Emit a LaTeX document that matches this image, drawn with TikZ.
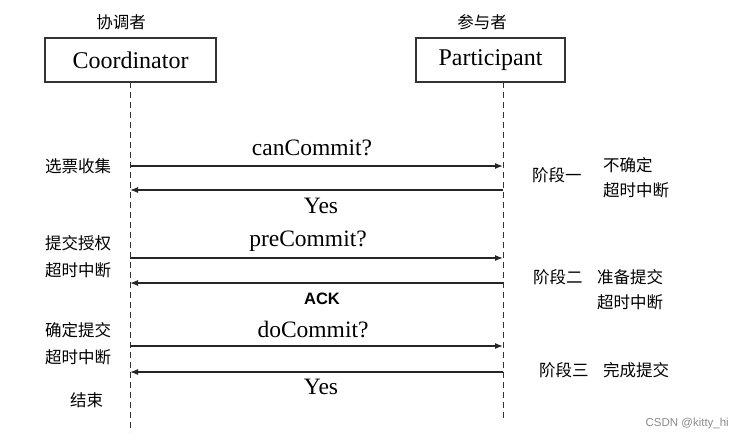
\documentclass[tikz,border=0pt]{standalone}
\usepackage{fontspec}
\setmainfont{Liberation Serif}
\setsansfont{Liberation Sans}
\newfontfamily\cjk{Noto Sans CJK SC}
\usetikzlibrary{arrows.meta}
\begin{document}
\begin{tikzpicture}[x=1pt,y=-1pt,
  actor/.style={draw=black!80,line width=1.3pt,minimum width=#1,minimum height=44pt,inner sep=0pt,font=\fontsize{24}{26}\selectfont},
  lifeline/.style={draw=black!80,line width=1pt,dash pattern=on 6pt off 4pt},
  msg/.style={draw=black!85,line width=1.2pt,-{Latex[length=8pt,width=6pt]}},
  msglabel/.style={font=\fontsize{23.5}{26}\selectfont,inner sep=0pt},
  cjklabel/.style={font=\cjk\fontsize{16.5}{18}\selectfont,inner sep=0pt,anchor=west},
  cjkc/.style={font=\cjk\fontsize{16.5}{18}\selectfont,inner sep=0pt}]
\useasboundingbox (0,0) rectangle (743,440);
\fill[white] (0,0) rectangle (743,440);
% actors
\node[actor=171pt] (coord) at (130.5,60) {Coordinator};
\node[actor=149pt] (part) at (490.5,60) {Participant};
\node[cjkc] (coordtitle) at (121,22) {协调者};
\node[cjkc] (parttitle) at (482,22) {参与者};
% lifelines
\coordinate (ctop) at (130,82);
\coordinate (cbot) at (130,432);
\coordinate (ptop) at (503,82);
\coordinate (pbot) at (503,418);
\draw[lifeline] (ctop) -- (cbot);
\draw[lifeline] (ptop) -- (pbot);
% message anchor points
\coordinate (c1) at (130,166); \coordinate (p1) at (503,166);
\coordinate (c2) at (130,190); \coordinate (p2) at (503,190);
\coordinate (c3) at (130,258); \coordinate (p3) at (503,258);
\coordinate (c4) at (130,283); \coordinate (p4) at (503,283);
\coordinate (c5) at (130,346); \coordinate (p5) at (503,346);
\coordinate (c6) at (130,372); \coordinate (p6) at (503,372);
\draw[msg] (c1) -- (p1);
\draw[msg] (p2) -- (c2);
\draw[msg] (c3) -- (p3);
\draw[msg] (p4) -- (c4);
\draw[msg] (c5) -- (p5);
\draw[msg] (p6) -- (c6);
% message labels
\node[msglabel] (l1) at (312,148) {canCommit?};
\node[msglabel] (l2) at (321,206) {Yes};
\node[msglabel] (l3) at (308,241) {preCommit?};
\node[font=\sffamily\bfseries\fontsize{16.5}{18}\selectfont,inner sep=0pt] (l4) at (322,299) {ACK};
\node[msglabel] (l5) at (313,330) {doCommit?};
\node[msglabel] (l6) at (321,387) {Yes};
% left labels
\node[cjklabel] (a1) at (45,166) {选票收集};
\node[cjklabel] (a2) at (45,243) {提交授权};
\node[cjklabel] (a3) at (45,270) {超时中断};
\node[cjklabel] (a4) at (45,330) {确定提交};
\node[cjklabel] (a5) at (45,357) {超时中断};
\node[cjklabel] (a6) at (70,400) {结束};
% right labels
\node[cjklabel] (b1) at (532,175) {阶段一};
\node[cjklabel] (b2) at (603,165) {不确定};
\node[cjklabel] (b3) at (603,190) {超时中断};
\node[cjklabel] (b4) at (533,277) {阶段二};
\node[cjklabel] (b5) at (597,277) {准备提交};
\node[cjklabel] (b6) at (597,302) {超时中断};
\node[cjklabel] (b7) at (539,370) {阶段三};
\node[cjklabel] (b8) at (603,370) {完成提交};
% watermark
\node[font=\sffamily\fontsize{11.5}{13}\selectfont,text=black!45,inner sep=0pt,anchor=east] (wm) at (729,424) {CSDN @kitty\_hi};
\end{tikzpicture}
\end{document}
